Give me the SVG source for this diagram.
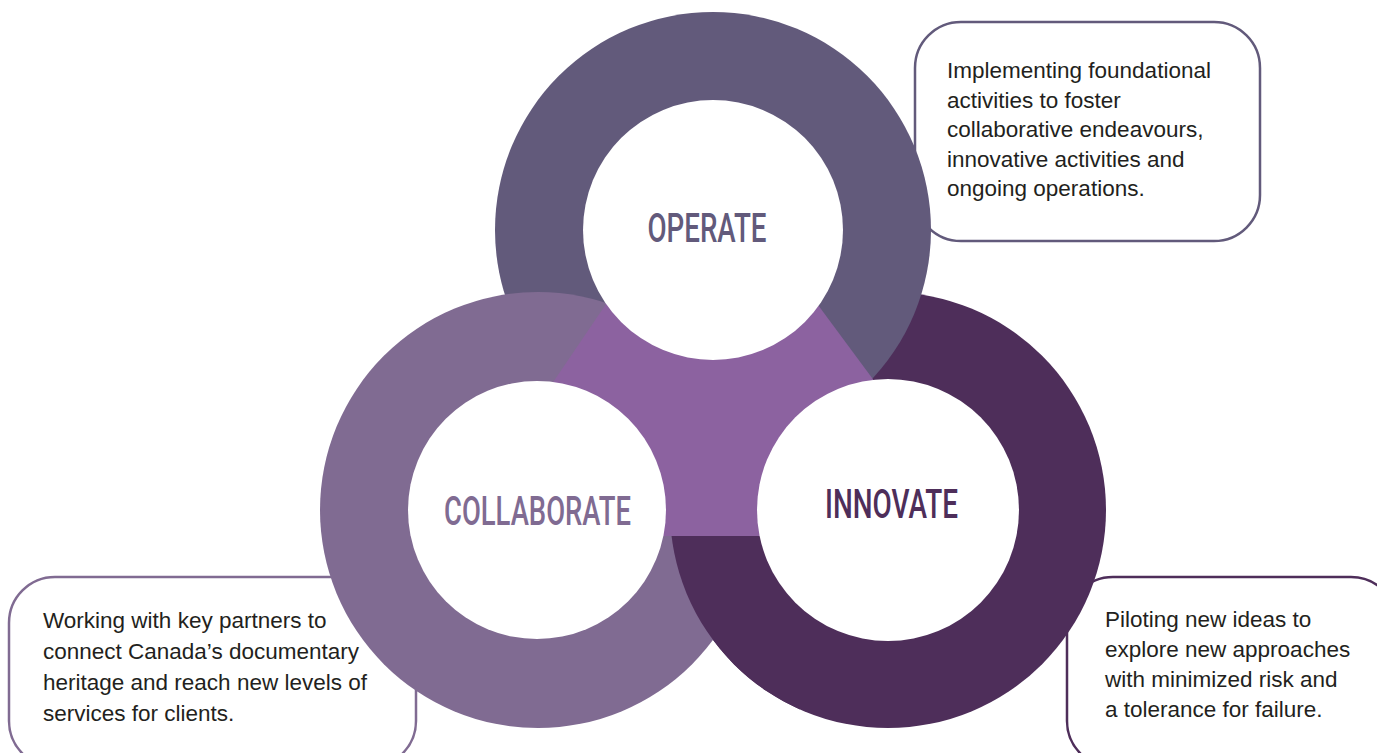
<svg xmlns="http://www.w3.org/2000/svg" width="1377" height="753" viewBox="0 0 1377 753">
<style>
.box{fill:#fff;stroke-width:2.5}
.desc{font-family:"Liberation Sans",Arial,sans-serif;font-size:22.5px;fill:#231f20}
.lbl{font-family:Roboto,"Liberation Sans",sans-serif;font-size:41px;font-weight:500;text-anchor:middle}
.hole{fill:#fff}
</style>
<defs>
<clipPath id="bottomClip"><rect x="600" y="536" width="200" height="217"/></clipPath>
</defs>
<rect width="1377" height="753" fill="#fff"/>
<g id="desc-operate">
<rect class="box" x="915" y="22" width="345" height="219" rx="46" stroke="#625a7b"/>
<text class="desc" x="947" y="78">Implementing foundational</text>
<text class="desc" x="947" y="107.5">activities to foster</text>
<text class="desc" x="947" y="137">collaborative endeavours,</text>
<text class="desc" x="947" y="166.5">innovative activities and</text>
<text class="desc" x="947" y="196">ongoing operations.</text>
</g>
<g id="desc-collaborate">
<rect class="box" x="9" y="577" width="407" height="190" rx="46" stroke="#806b92"/>
<text class="desc" x="43" y="628">Working with key partners to</text>
<text class="desc" x="43" y="659">connect Canada’s documentary</text>
<text class="desc" x="43" y="690">heritage and reach new levels of</text>
<text class="desc" x="43" y="721">services for clients.</text>
</g>
<g id="desc-innovate">
<rect class="box" x="1067" y="577" width="330" height="190" rx="46" stroke="#4e2e5a"/>
<text class="desc" x="1105" y="627">Piloting new ideas to</text>
<text class="desc" x="1105" y="657">explore new approaches</text>
<text class="desc" x="1105" y="687">with minimized risk and</text>
<text class="desc" x="1105" y="717">a tolerance for failure.</text>
</g>
<g id="rings">
<circle cx="888" cy="510" r="218" fill="#4e2e5a"/>
<circle cx="713" cy="230" r="218" fill="#625a7b"/>
<circle cx="538" cy="510" r="218" fill="#806b92"/>
<circle cx="888" cy="510" r="218" fill="#4e2e5a" clip-path="url(#bottomClip)"/>
<polygon points="707,155 449,536 989,536" fill="#8c62a0"/>
</g>
<g id="node-operate">
<circle class="hole" cx="713" cy="230" r="130"/>
<text class="lbl" x="707" y="242" fill="#625a7b" textLength="119" lengthAdjust="spacingAndGlyphs">OPERATE</text>
</g>
<g id="node-collaborate">
<circle class="hole" cx="537" cy="510" r="129"/>
<text class="lbl" x="537.5" y="525" fill="#806b92" textLength="187" lengthAdjust="spacingAndGlyphs">COLLABORATE</text>
</g>
<g id="node-innovate">
<circle class="hole" cx="888" cy="510" r="131"/>
<text class="lbl" x="891.5" y="518" fill="#4e2e5a" textLength="133" lengthAdjust="spacingAndGlyphs">INNOVATE</text>
</g>
</svg>
